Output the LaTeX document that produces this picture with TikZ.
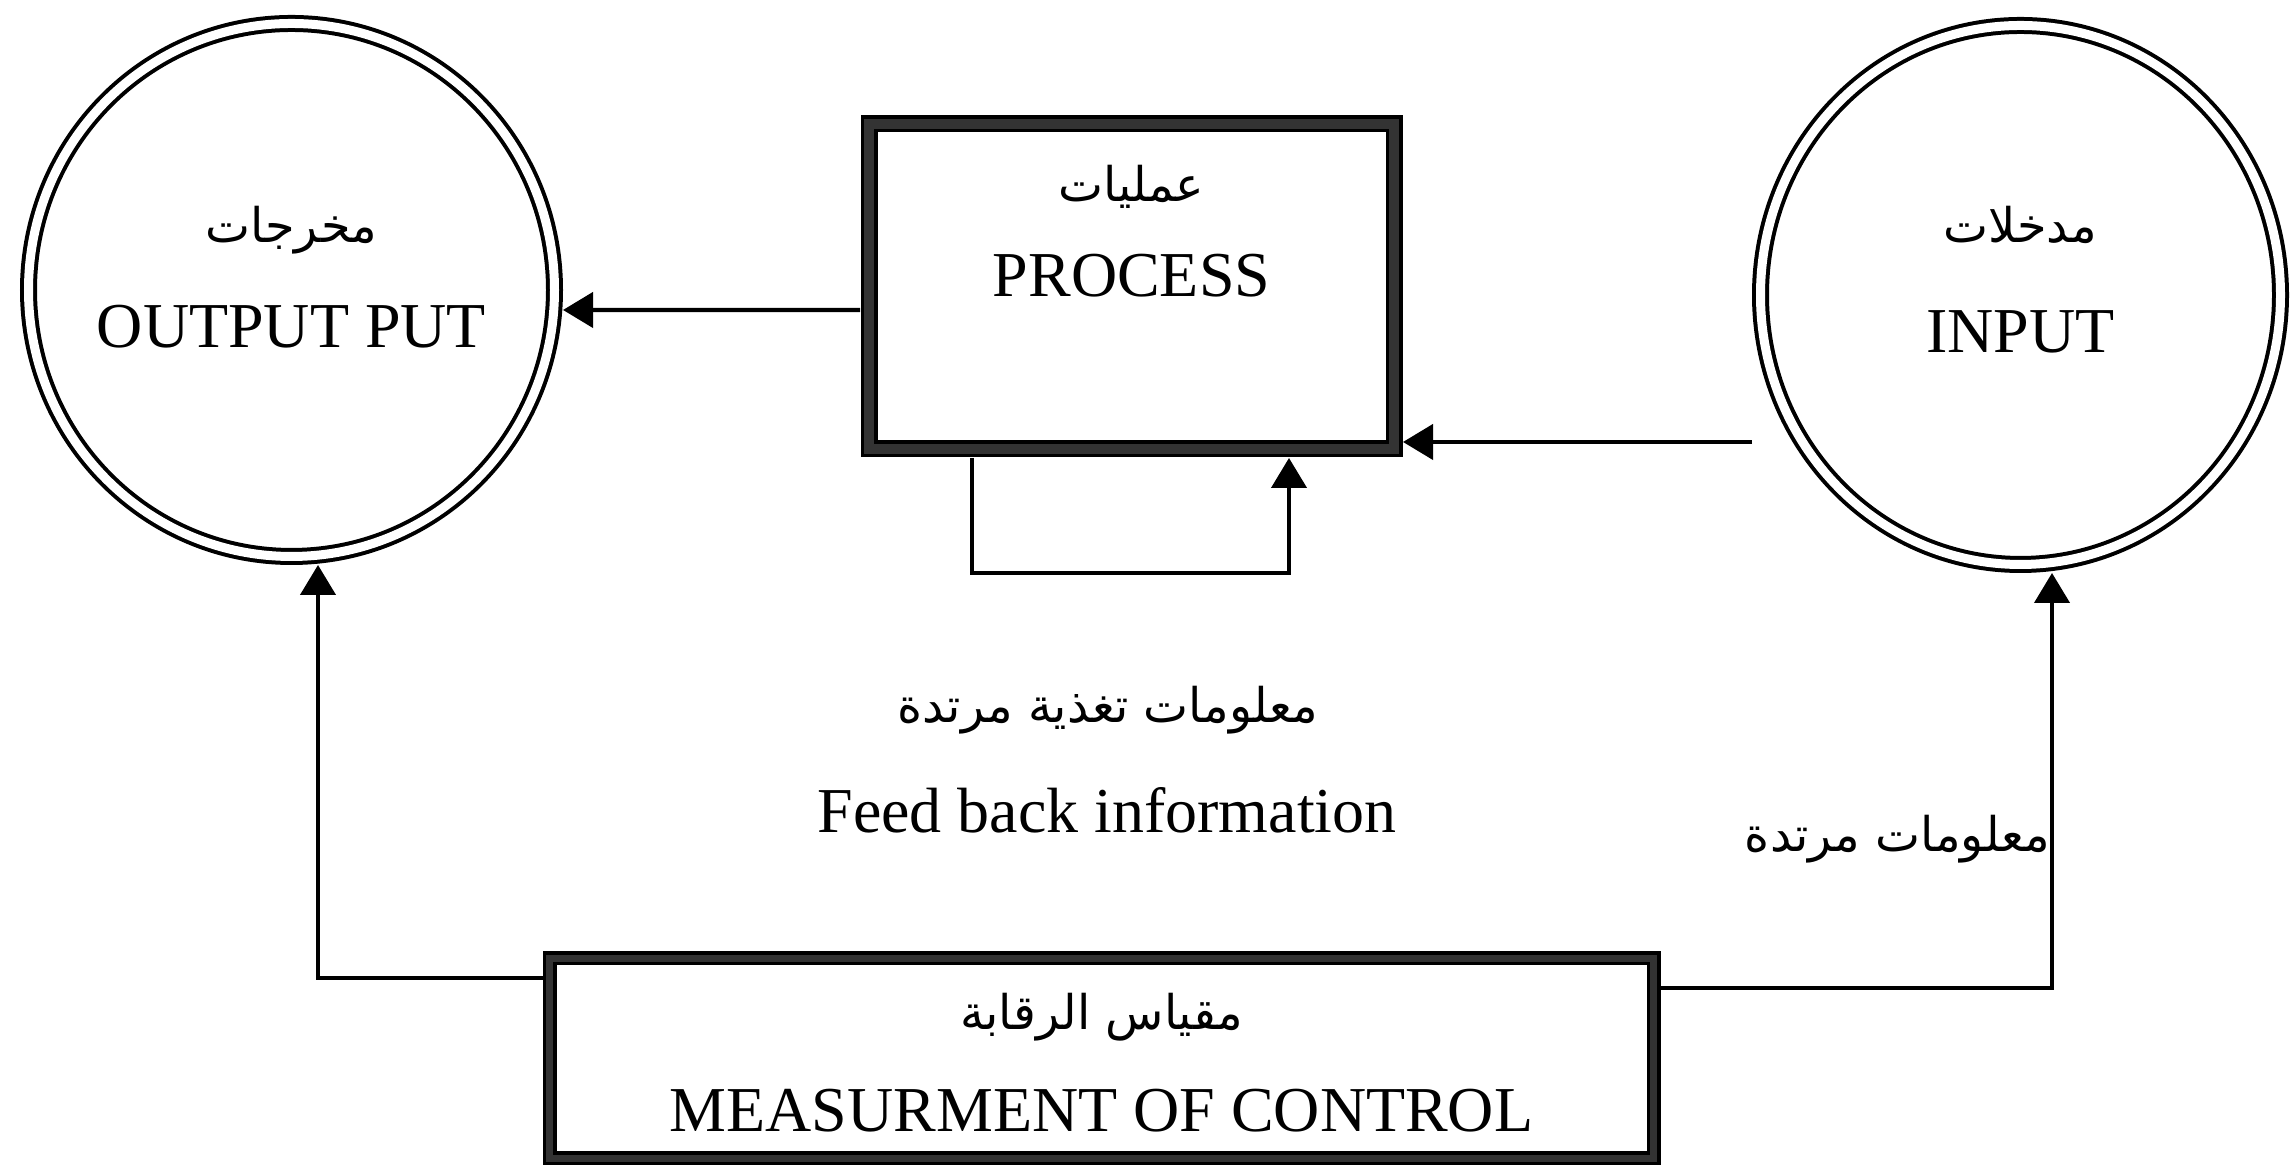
\documentclass[tikz,border=0pt]{standalone}
\usepackage{fontspec}
\setmainfont{Liberation Serif}
\newfontfamily\arabicfont[Script=Arabic]{DejaVu Sans}
\TeXXeTstate=1
\usetikzlibrary{arrows.meta, shapes.geometric, positioning}
\newcommand{\arabtext}[1]{{\arabicfont\beginR #1\endR}}

\begin{document}
\begin{tikzpicture}[
        ring/.style = {ellipse, draw, line width = 0.4mm, double, double distance = 0.9mm, outer sep = 0.85mm, inner sep = 0pt},
        frame/.style = {rectangle, draw, line width = 0.35mm, double = black!80, inner sep = 0pt},
        link/.style = {line width = 1.2pt, -{Triangle[length = 3mm, width = 3.5mm]}},
        eng/.style = {font = \fontsize{18.2}{22}\selectfont, inner sep = 0pt, anchor = base},
        arb/.style = {font = \fontsize{13.6}{17}\selectfont, inner sep = 0pt, anchor = base}
    ]
    \useasboundingbox (0, 0) rectangle (22.91, 11.70);
    \node[ring, minimum width = 5.26cm, minimum height = 5.33cm] (output) at (2.915, 8.80) {};
    \node[ring, minimum width = 5.20cm, minimum height = 5.39cm] (input) at (20.205, 8.75) {};
    \node[frame, double distance = 1mm, outer sep = 0.9mm, minimum width = 5.25cm, minimum height = 3.25cm] (proc) at (11.315, 8.835) {};
    \node[frame, double distance = 0.7mm, outer sep = 0.65mm, minimum width = 11.04cm, minimum height = 2cm] (meas) at (11.015, 1.115) {};

    \node[arb] (outar) at ([yshift = 4.7mm]output.center) {\arabtext{مخرجات}};
    \node[eng] (outen) at ([yshift = -5.8mm]output.center) {OUTPUT PUT};
    \node[arb] (inar) at ([yshift = 5.2mm]input.center) {\arabtext{مدخلات}};
    \node[eng] (inen) at ([yshift = -5.8mm]input.center) {INPUT};
    \node[arb] (procar) at ([yshift = 8.45mm]proc.center) {\arabtext{عمليات}};
    \node[eng] (procen) at ([yshift = -1.05mm]proc.center) {PROCESS};
    \node[arb] (measar) at ([yshift = 2.85mm]meas.center) {\arabtext{مقياس الرقابة}};
    \node[eng] (measen) at ([yshift = -7.35mm]meas.center) {MEASURMENT OF CONTROL};
    \node[arb] (fbar) at (11.08, 4.47) {\arabtext{معلومات تغذية مرتدة}};
    \node[eng] (fben) at (11.07, 3.37) {Feed back information};

    \coordinate (procin) at ([yshift = -15.55mm]proc.east);
    \draw[link] ([yshift = -2.35mm]proc.west) -- ([yshift = -2mm]output.east);
    \draw[link] (input.west |- procin) -- (procin);
    \draw[link] ([xshift = -15.95mm]proc.south) -- ++(0, -1.15) -| ([xshift = 15.75mm]proc.south);
    \draw[link] ([yshift = 8.05mm]meas.west) -| ([xshift = 2.65mm]output.south);
    \draw[link] ([yshift = 7.05mm]meas.east) -| ([xshift = 3.15mm]input.south)
        node[arb, pos = 0.665, anchor = base east] (fbright) {\arabtext{معلومات مرتدة}};
\end{tikzpicture}
\end{document}
